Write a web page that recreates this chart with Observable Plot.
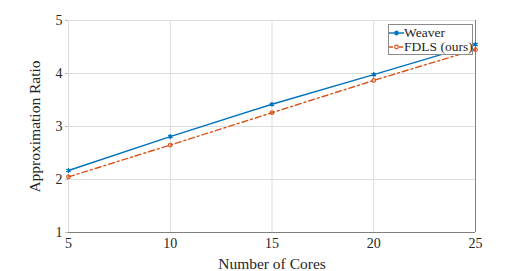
<!DOCTYPE html>
<html><head><meta charset="utf-8">
<script src="https://cdn.jsdelivr.net/npm/d3@7"></script>
<script src="https://cdn.jsdelivr.net/npm/@observablehq/plot@0.6"></script>
<style>
body{margin:0;background:#fff;}
#wrap{position:relative;width:526px;height:271px;font-family:"Liberation Serif","Times New Roman",serif;}
#legend{position:absolute;left:388px;top:24px;width:85px;height:31px;background:#fff;border:1px solid #8a8a8a;box-sizing:border-box;font-size:13.5px;color:#262626;white-space:nowrap;overflow:visible;}
#legend div{display:flex;align-items:center;height:14px;line-height:14px;margin-top:0.5px;}
#legend svg{margin-right:0px;flex:none;}
</style></head><body>
<div id="wrap"><div id="chart"></div>
<div id="legend"></div></div>
<script>
const cores = [5, 10, 15, 20, 25];
const weaver = [2.17, 2.81, 3.42, 3.98, 4.55];
const fdls = [2.05, 2.65, 3.26, 3.87, 4.45];
const xTicks = [5, 10, 15, 20, 25];
const yTicks = [1, 2, 3, 4, 5];
const seriesNames = ["Weaver", "FDLS (ours)"];
const colors = ["#0072BD", "#D95319"];

const wData = cores.map((c, i) => ({x: c, y: weaver[i]}));
const fData = cores.map((c, i) => ({x: c, y: fdls[i]}));

const plot = Plot.plot({
  width: 526, height: 271,
  marginLeft: 68, marginRight: 51, marginTop: 20, marginBottom: 39,
  style: {fontFamily: '"Liberation Serif","Times New Roman",serif', fontSize: "14px", color: "#262626", background: "#fff"},
  x: {domain: [5, 25], ticks: xTicks, label: null},
  y: {domain: [1, 5], ticks: yTicks, label: null},
  marks: [
    Plot.gridX(xTicks, {stroke: "#dcdcdc", strokeOpacity: 1}),
    Plot.gridY(yTicks, {stroke: "#dcdcdc", strokeOpacity: 1}),
    Plot.ruleY([1], {stroke: "#808080"}),
    Plot.ruleX([25], {stroke: "#808080"}),
    Plot.axisX(xTicks, {tickSize: 0, tickPadding: 6, fontSize: 14, tickFormat: d3.format("d"), label: "Number of Cores", labelAnchor: "center", labelArrow: "none", labelOffset: 36}),
    Plot.axisY(yTicks, {tickSize: 3, tickPadding: 3, stroke: "#bbb", fontSize: 14, tickFormat: d3.format("d"), label: "Approximation Ratio", labelAnchor: "center", labelArrow: "none", labelOffset: 40}),
    Plot.line(fData, {x: "x", y: "y", stroke: colors[1], strokeWidth: 1.4, strokeDasharray: "6,3,2,3"}),
    Plot.dot(fData, {x: "x", y: "y", stroke: colors[1], r: 1.8, strokeWidth: 1.2, fill: "none"}),
    Plot.line(wData, {x: "x", y: "y", stroke: colors[0], strokeWidth: 1.4}),
    Plot.dot(wData, {x: "x", y: "y", stroke: colors[0], symbol: "asterisk", r: 2.4, strokeWidth: 1.3})
  ]
});
document.getElementById("chart").appendChild(plot);
plot.querySelectorAll("g[aria-label='x-axis label'] text, g[aria-label='y-axis label'] text").forEach(t => t.setAttribute("font-size", "15.5"));

const leg = document.getElementById("legend");
seriesNames.forEach((name, i) => {
  const row = document.createElement("div");
  const sym = i === 0
    ? `<svg width="15" height="10"><line x1="0" y1="5" x2="15" y2="5" stroke="${colors[0]}" stroke-width="1.4"/><path d="M7.5,2.5V7.5M5,5H10M5.7,3.2L9.3,6.8M5.7,6.8L9.3,3.2" stroke="${colors[0]}" stroke-width="1.2"/></svg>`
    : `<svg width="15" height="10"><line x1="0" y1="5" x2="15" y2="5" stroke="${colors[1]}" stroke-width="1.4" stroke-dasharray="4,2,2,2"/><circle cx="7.5" cy="5" r="1.8" fill="#fff" stroke="${colors[1]}" stroke-width="1.2"/></svg>`;
  row.innerHTML = sym + `<span>${name}</span>`;
  leg.appendChild(row);
});
</script>
</body></html>
